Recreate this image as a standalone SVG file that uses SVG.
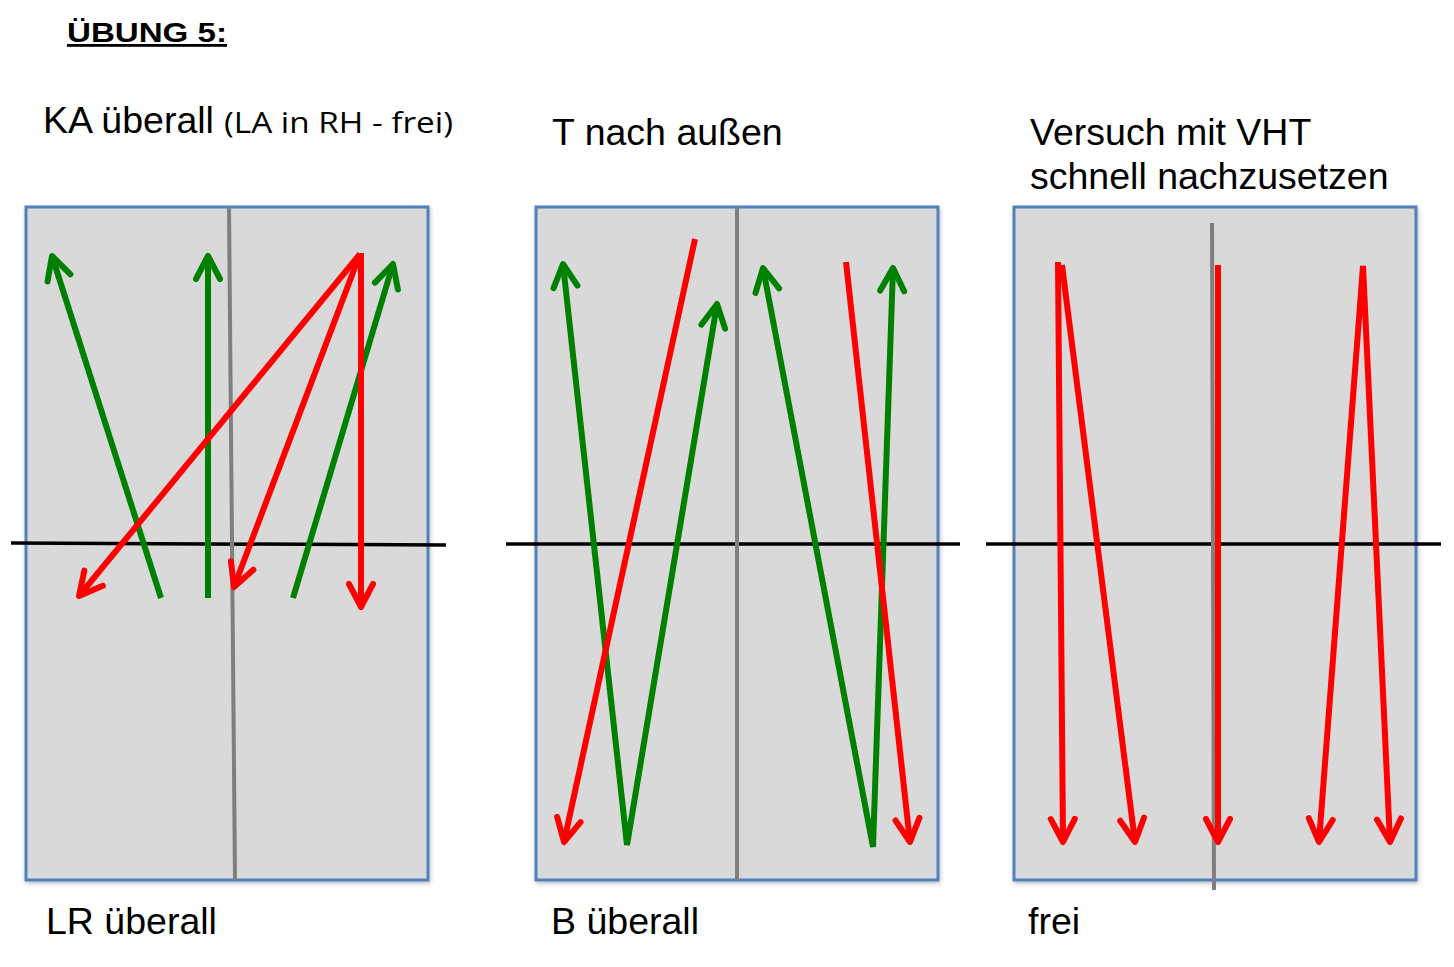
<svg xmlns="http://www.w3.org/2000/svg" width="1454" height="967" viewBox="0 0 1454 967">
  <style>
    .t { font-family: "Liberation Sans", Arial, sans-serif; font-size: 37.5px; fill: #000; }
    .cal { font-family: "Open Sans", "Noto Sans", sans-serif; font-size: 30px; fill: #000; }
    .title { font-family: "Liberation Sans", Arial, sans-serif; font-size: 28px; font-weight: bold; fill: #000; text-decoration: underline; }
    .box { fill: #d9d9d9; stroke: #4f81bd; stroke-width: 3; filter: url(#sh); }
    .div { stroke: #7f7f7f; stroke-width: 4; fill: none; }
    .hl { stroke: #000; stroke-width: 3.5; fill: none; }
    .g { stroke: #008000; stroke-width: 6; fill: none; stroke-linejoin: miter; }
    .r { stroke: #ff0000; stroke-width: 6; fill: none; stroke-linejoin: miter; }
    .ge { marker-end: url(#ag); }
    .gs { marker-start: url(#ag); }
    .re { marker-end: url(#ar); }
    .rs { marker-start: url(#ar); }
  </style>
  <defs>
    <filter id="sh" x="-5%" y="-5%" width="110%" height="110%">
      <feDropShadow dx="1" dy="2" stdDeviation="2" flood-color="#000" flood-opacity="0.25"/>
    </filter>
    <marker id="ag" markerUnits="userSpaceOnUse" orient="auto-start-reverse" refX="0" refY="0" markerWidth="40" markerHeight="40" overflow="visible">
      <path d="M-23,-12 L0,0 L-23,12" fill="none" stroke="#008000" stroke-width="6" stroke-linecap="round" stroke-linejoin="round"/>
    </marker>
    <marker id="ar" markerUnits="userSpaceOnUse" orient="auto-start-reverse" refX="0" refY="0" markerWidth="40" markerHeight="40" overflow="visible">
      <path d="M-23,-12 L0,0 L-23,12" fill="none" stroke="#ff0000" stroke-width="6" stroke-linecap="round" stroke-linejoin="round"/>
    </marker>
  </defs>

  <rect width="1454" height="967" fill="#fff"/>

  <g id="labels">
    <text class="title" x="67" y="42" textLength="160" lengthAdjust="spacingAndGlyphs">ÜBUNG 5:</text>
    <text class="t" x="43" y="133">KA überall</text>
    <text class="cal" x="224" y="133" textLength="229" lengthAdjust="spacingAndGlyphs">(LA in RH - frei)</text>
    <text class="t" x="552" y="145">T nach außen</text>
    <text class="t" x="1030" y="145">Versuch mit VHT</text>
    <text class="t" x="1030" y="189">schnell nachzusetzen</text>
    <text class="t" x="46" y="934">LR überall</text>
    <text class="t" x="551" y="934">B überall</text>
    <text class="t" x="1028" y="934">frei</text>
  </g>

  <g id="panel1">
    <rect class="box" x="26" y="207" width="402" height="673"/>
    <line class="hl" x1="11" y1="543" x2="446" y2="545"/>
    <line class="div" x1="229" y1="207" x2="235" y2="880"/>
  </g>
  <g id="panel2">
    <rect class="box" x="536" y="207" width="402" height="673"/>
    <line class="hl" x1="506" y1="544" x2="960" y2="544"/>
    <line class="div" x1="737" y1="207" x2="737" y2="880"/>
  </g>
  <g id="panel3">
    <rect class="box" x="1014" y="207" width="402" height="673"/>
    <line class="hl" x1="986" y1="544" x2="1441" y2="544"/>
    <line class="div" x1="1212" y1="223" x2="1214" y2="890"/>
  </g>

  <g id="connectors">
    <!-- panel 1 -->
    <line class="g ge" x1="161" y1="598" x2="52" y2="256"/>
    <line class="g ge" x1="208" y1="598" x2="208" y2="256"/>
    <line class="g ge" x1="293" y1="598" x2="393" y2="264"/>
    <line class="r re" x1="360" y1="254" x2="79" y2="596"/>
    <line class="r re" x1="360" y1="254" x2="234" y2="587"/>
    <line class="r re" x1="361" y1="253" x2="361" y2="607"/>
    <!-- panel 2 -->
    <polyline class="g gs ge" points="563,264 627,845 717,304"/>
    <polyline class="g gs ge" points="763,268 873,847 893,268"/>
    <line class="r re" x1="695" y1="239" x2="564" y2="842"/>
    <line class="r re" x1="846" y1="262" x2="910" y2="842"/>
    <!-- panel 3 -->
    <line class="r re" x1="1058" y1="262" x2="1063" y2="842"/>
    <line class="r re" x1="1062" y1="265" x2="1135" y2="842"/>
    <line class="r re" x1="1218" y1="265" x2="1218" y2="842"/>
    <polyline class="r rs re" points="1319,842 1363,266 1390,842"/>
  </g>
</svg>
